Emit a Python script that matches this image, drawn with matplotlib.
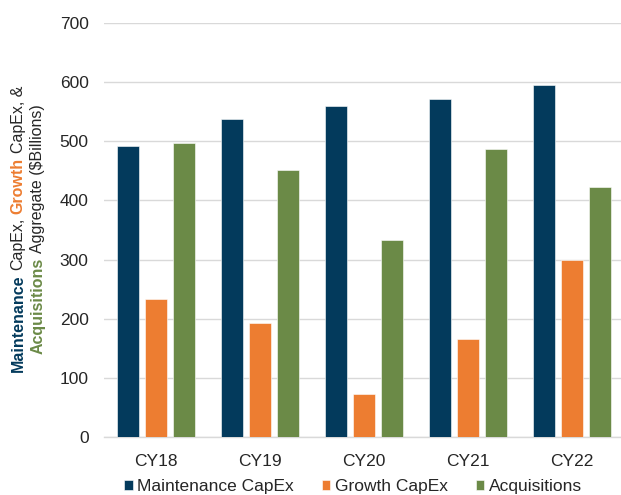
import matplotlib
matplotlib.use("Agg")
import matplotlib.pyplot as plt
import numpy as np
from matplotlib.font_manager import FontProperties

# Data ($ billions)
years = ["CY18", "CY19", "CY20", "CY21", "CY22"]
maintenance = [492, 537, 559, 572, 596]
growth = [234, 193, 73, 165, 300]
acquisitions = [497, 451, 333, 487, 423]
series_names = ["Maintenance CapEx", "Growth CapEx", "Acquisitions"]
y_ticks = [0, 100, 200, 300, 400, 500, 600, 700]

NAVY = "#033A5C"
ORANGE = "#ED7D31"
GREEN = "#6B8A47"
TEXT = "#262626"
GRID = "#D9D9D9"

plt.rcParams["font.family"] = ["Liberation Sans", "DejaVu Sans"]

W, H = 621, 495
fig = plt.figure(figsize=(W / 100, H / 100), dpi=100)
ax = fig.add_axes([104 / W, (H - 437) / H, 520 / W, 414 / H])

x = np.arange(len(years))
bw = 0.212
step = 0.27
for vals, off, col, name in zip([maintenance, growth, acquisitions],
                                [-step, 0, step],
                                [NAVY, ORANGE, GREEN], series_names):
    ax.bar(x + off, vals, width=bw, color=col, label=name,
           edgecolor="white", linewidth=0.4, zorder=3)

ax.set_xlim(-0.5, len(years) - 0.5)
ax.set_ylim(0, 700)
ax.set_yticks(y_ticks)
ax.set_xticks(x)
ax.set_xticklabels(years)
ax.grid(axis="y", color=GRID, linewidth=1.0, zorder=0)
ax.set_axisbelow(True)
for s in ["top", "right", "left"]:
    ax.spines[s].set_visible(False)
ax.spines["bottom"].set_color(GRID)
ax.spines["bottom"].set_linewidth(1.0)
ax.tick_params(axis="both", length=0, labelsize=12.5, colors=TEXT)
ax.tick_params(axis="y", pad=11)
ax.tick_params(axis="x", pad=12.5)

leg = fig.legend(loc="center", bbox_to_anchor=(353 / W, (H - 487) / H),
                 ncol=3, frameon=False, fontsize=12.5, handlelength=0.5,
                 handleheight=0.5, handletextpad=0.25, columnspacing=1.6,
                 borderpad=0.2)
for t in leg.get_texts():
    t.set_color(TEXT)

# Multi-coloured, two-line rotated y-axis title
fig.canvas.draw()
renderer = fig.canvas.get_renderer()
fs = 11.5
reg = FontProperties(family=["Liberation Sans", "DejaVu Sans"], size=fs)
bold = FontProperties(family=["Liberation Sans", "DejaVu Sans"], size=fs,
                      weight="bold")


def text_len(s, prop):
    w, h, d = renderer.get_text_width_height_descent(s, prop, ismath=False)
    return w


space = text_len("a a", reg) - text_len("aa", reg)

lines = [
    (18, [("Maintenance", bold, NAVY), ("CapEx,", reg, TEXT),
          ("Growth", bold, ORANGE), ("CapEx, &", reg, TEXT)]),
    (38, [("Acquisitions", bold, GREEN),
          ("Aggregate ($Billions)", reg, TEXT)]),
]
center_y = H - 229
for xc, pieces in lines:
    lens = [text_len(s, p) for s, p, c in pieces]
    total = sum(lens) + space * (len(pieces) - 1)
    y0 = center_y - total / 2
    for (s, p, c), L in zip(pieces, lens):
        fig.text(xc / W, y0 / H, s, fontproperties=p, color=c,
                 rotation=90, ha="center", va="bottom")
        y0 += L + space

fig.savefig("out.png", dpi=100)
